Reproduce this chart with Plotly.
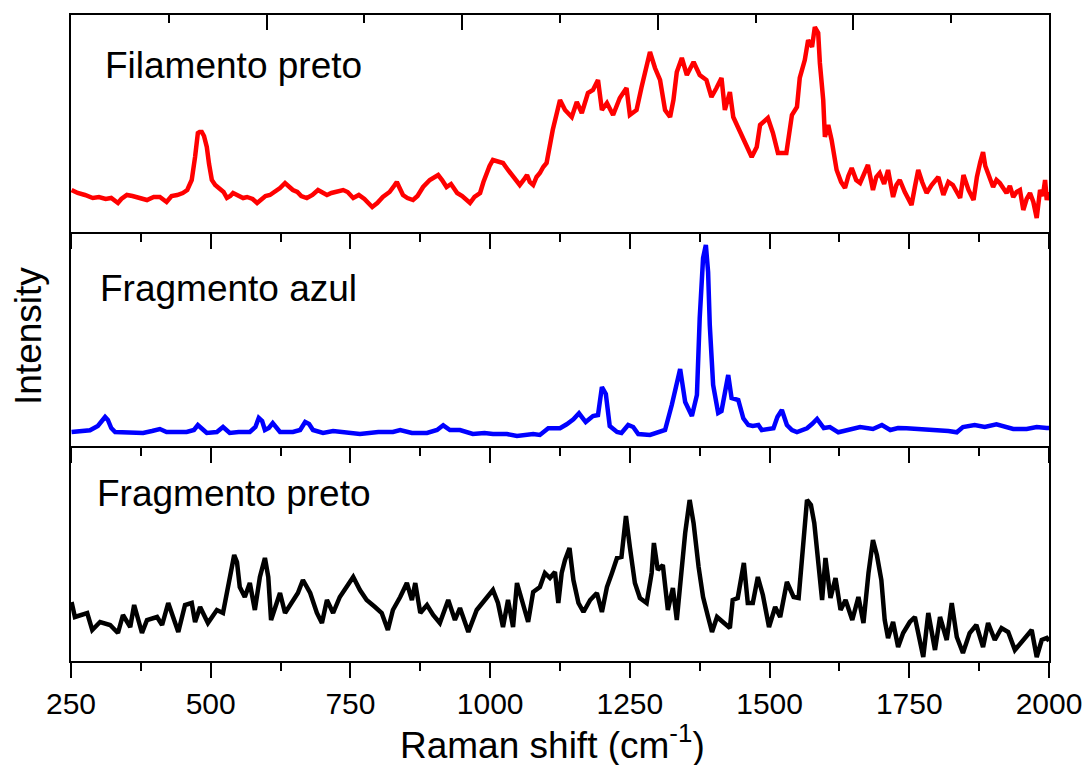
import plotly.graph_objects as go

# ---------------- data (Raman shift in cm-1, intensity in a.u.) ----------------
red_x = [251, 262, 275, 289, 300, 312, 322, 334, 340, 350, 360, 372, 386, 398, 409, 421, 430, 440,
         450, 458, 466, 472, 477, 480, 484, 488, 493, 497, 502, 508, 517, 523, 529, 535, 540, 548,
         558, 565, 575, 583, 592, 598, 606, 615, 624, 633, 640, 647, 655, 662, 672, 682, 692, 700,
         708, 716, 725, 737, 745, 755, 765, 775, 789, 798, 808, 820, 828, 833, 838, 844, 852, 862,
         870, 880, 892, 900, 907, 914, 922, 930, 941, 950, 958, 964, 972, 982, 988, 994, 999, 1005,
         1012, 1023, 1032, 1041, 1047, 1053, 1060, 1066, 1071, 1077, 1083, 1089, 1095, 1101, 1112,
         1125, 1134, 1146, 1155, 1164, 1175, 1184, 1193, 1200, 1209, 1220, 1232, 1244, 1250, 1262,
         1271, 1280, 1286, 1295, 1304, 1313, 1322, 1328, 1334, 1343, 1352, 1364, 1375, 1387, 1396,
         1405, 1414, 1420, 1429, 1435, 1447, 1459, 1468, 1477, 1483, 1497, 1506, 1515, 1530, 1540,
         1549, 1554, 1563, 1569, 1576, 1581, 1587, 1590, 1596, 1599, 1605, 1611, 1620, 1628, 1635,
         1641, 1647, 1655, 1662, 1669, 1676, 1685, 1691, 1697, 1705, 1712, 1721, 1727, 1733, 1742,
         1754, 1760, 1766, 1773, 1781, 1790, 1802, 1811, 1820, 1828, 1835, 1841, 1847, 1856, 1865,
         1871, 1877, 1882, 1886, 1891, 1900, 1906, 1912, 1918, 1924, 1930, 1936, 1942, 1948, 1954,
         1960, 1966, 1972, 1978, 1984, 1989, 1993, 1996, 2000]
red_y = [42, 39, 37, 34, 35, 33, 34, 29, 33, 37, 36, 34, 32, 35, 35, 30, 36, 37,
         39, 42, 52, 75, 99, 100, 100, 96, 85, 68, 52, 47, 42, 40, 34, 36, 39, 37,
         34, 35, 33, 29, 33, 36, 37, 40, 44, 49, 45, 42, 40, 36, 34, 37, 42, 40,
         37, 39, 40, 42, 40, 34, 37, 33, 25, 29, 35, 40, 46, 50, 44, 37, 34, 32,
         36, 45, 52, 55, 57, 52, 45, 48, 39, 36, 32, 29, 35, 39, 50, 59, 66, 72,
         71, 69, 62, 55, 50, 47, 52, 57, 50, 47, 55, 59, 65, 69, 102,
         132, 122, 115, 130, 119, 139, 142, 152, 122, 129, 117, 134, 144, 117, 122,
         145, 165, 180, 164, 152, 122, 115, 132, 160, 174, 157, 170, 157, 152, 135,
         144, 154, 122, 140, 115, 100, 85, 75, 85, 107, 114, 99, 79, 79, 117,
         125, 154, 172, 192, 185, 205, 199, 169, 132, 95, 107, 92, 62, 50, 44,
         56, 64, 52, 49, 58, 67, 42, 55, 59, 48, 62, 35, 47, 52, 40,
         27, 45, 62, 50, 39, 47, 55, 37, 50, 47, 40, 34, 57, 42, 32,
         55, 70, 80, 66, 59, 45, 52, 49, 44, 39, 46, 35, 40, 42, 22,
         33, 39, 30, 14, 42, 36, 52, 32, 40]

blue_x = [251, 270, 284, 298, 305, 311, 316, 322, 329, 350, 379, 395, 409, 421, 440, 457, 470, 477,
          485, 493, 511, 522, 534, 550, 570, 580, 586, 592, 597, 604, 611, 618, 624, 647, 660, 669,
          676, 683, 701, 719, 740, 767, 800, 826, 839, 860, 887, 905, 916, 928, 946, 969, 990, 1005,
          1030, 1048, 1077, 1089, 1104, 1125, 1137, 1149, 1159, 1171, 1184, 1193, 1200, 1207, 1214,
          1227, 1235, 1247, 1256, 1265, 1286, 1300, 1313, 1325, 1333, 1340, 1349, 1361, 1370, 1375,
          1381, 1386, 1390, 1393, 1399, 1408, 1414, 1420, 1426, 1432, 1444, 1453, 1462, 1470, 1480,
          1486, 1496, 1507, 1514, 1522, 1531, 1540, 1549, 1558, 1567, 1576, 1585, 1597, 1608, 1623,
          1640, 1662, 1685, 1701, 1716, 1730, 1745, 1770, 1805, 1820, 1835, 1846, 1867, 1885, 1906,
          1920, 1936, 1960, 1978, 1996, 2000]
blue_y = [14, 15, 15.7, 20, 25, 29, 26, 18, 14, 14, 13, 15, 17, 14, 14, 14, 16, 21,
          17, 13, 14, 19, 13, 14, 14, 19, 28, 25, 16, 18, 23, 18, 14, 14, 16, 24,
          22, 16, 13, 15, 14, 12, 14, 14, 16, 13, 13, 16, 20.7, 16, 16, 12, 13, 12,
          12, 10, 12, 11, 17.7, 17.7, 21.7, 26.7, 32.7, 24, 30, 31, 59, 52, 20,
          14, 13, 21, 19, 12, 11, 13, 16, 41, 62, 77, 44, 30, 51, 128,
          188, 201, 174, 121, 61, 33, 35, 54, 71, 48, 46, 27.7, 21, 20, 21,
          16, 17, 17.7, 29, 36, 21, 16, 14, 16, 17.7, 22, 27, 18, 19, 13.7,
          16, 19, 17, 21, 16, 18, 17.7, 17, 16, 15, 13.7, 19, 21, 19, 21.7,
          20, 17, 17, 19, 18, 18]

black_x = [251, 257, 279, 288, 302, 320, 334, 343, 356, 363, 377, 386, 404, 413, 424, 433, 442,
           454, 466, 472, 481, 495, 511, 522, 529, 536, 542, 547, 552, 561, 570, 579, 588, 597,
           603, 608, 615, 624, 633, 645, 656, 665, 678, 690, 699, 708, 719, 731, 744, 755, 767,
           779, 794, 806, 817, 826, 839, 851, 860, 866, 875, 887, 898, 910, 925, 937, 946, 961,
           976, 987, 1005, 1014, 1023, 1032, 1041, 1048, 1056, 1068, 1077, 1089, 1098, 1107, 1116,
           1122, 1128, 1134, 1142, 1149, 1158, 1167, 1179, 1191, 1200, 1209, 1218, 1227, 1235,
           1243, 1250, 1259, 1268, 1280, 1289, 1293, 1300, 1309, 1318, 1327, 1334, 1340, 1349,
           1357, 1364, 1373, 1381, 1390, 1397, 1406, 1417, 1429, 1434, 1443, 1454, 1461, 1470,
           1479, 1488, 1499, 1510, 1519, 1531, 1543, 1552, 1558, 1567, 1574, 1580, 1588, 1594,
           1600, 1609, 1618, 1627, 1636, 1648, 1659, 1668, 1677, 1685, 1692, 1700, 1706, 1712,
           1721, 1730, 1739, 1751, 1760, 1775, 1784, 1796, 1805, 1817, 1826, 1835, 1846, 1858,
           1870, 1882, 1891, 1903, 1915, 1927, 1939, 1954, 1969, 1978, 1987, 1996, 2000]
black_y = [59, 44, 48, 31, 39, 36, 28, 46, 34, 56, 28, 41, 44, 36, 58, 44, 29,
           56, 58, 39, 54, 38, 51, 48, 68, 88, 106, 99, 74, 64, 78, 51, 84, 103,
           84, 41, 54, 68, 48, 58, 68, 81, 68, 48, 38, 61, 48, 64, 74, 84, 71,
           61, 54, 48, 31, 51, 64, 78, 61, 78, 48, 56, 46, 38, 61, 41, 53, 29,
           51, 58, 71, 58, 34, 61, 34, 78, 61, 39, 69, 74, 88, 83, 89,
           58, 88, 101, 113, 81, 58, 49, 61, 68, 49, 74, 88, 103, 104,
           145, 114, 78, 63, 58, 88, 118, 91, 96, 51, 73, 41, 78, 128,
           161, 138, 94, 64, 44, 29, 44, 38, 33, 61, 63, 98, 58, 58,
           84, 66, 34, 54, 44, 79, 64, 63, 104, 161, 156, 138, 94, 61,
           103, 63, 83, 51, 61, 41, 64, 38, 88, 121, 106, 81, 41, 23,
           39, 14, 28, 39, 44, 4, 48, 11, 44, 21, 58, 24, 8, 28,
           36, 14, 38, 21, 33, 29, 11, 21, 31, 4, 21, 23, 20]

x_ticks_major = [250, 500, 750, 1000, 1250, 1500, 1750, 2000]
x_tick_labels = ["250", "500", "750", "1000", "1250", "1500", "1750", "2000"]
panel_labels = ["Filamento preto", "Fragmento azul", "Fragmento preto"]

# ---------------- figure ----------------
FONT = "Arial, Liberation Sans, sans-serif"
LW = 4.5
fig = go.Figure()
fig.add_trace(go.Scatter(x=black_x, y=black_y, xaxis="x", yaxis="y", mode="lines",
                         line=dict(color="#000000", width=LW), showlegend=False))
fig.add_trace(go.Scatter(x=blue_x, y=blue_y, xaxis="x2", yaxis="y2", mode="lines",
                         line=dict(color="#0000FF", width=LW), showlegend=False))
fig.add_trace(go.Scatter(x=red_x, y=red_y, xaxis="x3", yaxis="y3", mode="lines",
                         line=dict(color="#FF0000", width=LW), showlegend=False))
# empty helper trace so the top-edge axis of the upper panel is drawn
fig.add_trace(go.Scatter(x=[], y=[], xaxis="x4", yaxis="y3", mode="lines",
                         showlegend=False, hoverinfo="skip"))

H = 646.0
d_bot = [0, 215 / H]
d_mid = [215 / H, 429 / H]
d_top = [429 / H, 1]

xcommon = dict(range=[250, 2000], showline=True, linecolor="black", linewidth=2,
               ticks="outside", ticklen=15, tickwidth=2, tickcolor="black",
               tickmode="array", tickvals=x_ticks_major, ticktext=x_tick_labels,
               minor=dict(ticks="outside", ticklen=8, tickwidth=2, tickcolor="black",
                          tick0=250, dtick=125),
               showgrid=False, zeroline=False, domain=[0, 1], automargin=False)
ycommon = dict(showline=True, mirror=True, linecolor="black", linewidth=2, ticks="",
               showticklabels=False, showgrid=False, zeroline=False, automargin=False)

fig.update_layout(
    width=1087, height=765,
    margin=dict(l=71, r=38, t=15, b=104),
    paper_bgcolor="white", plot_bgcolor="white",
    font=dict(family=FONT, color="black"),
    xaxis=dict(xcommon, anchor="y", showticklabels=True,
               tickfont=dict(size=30, family=FONT, color="black")),
    xaxis2=dict(xcommon, anchor="y2", showticklabels=False),
    xaxis3=dict(xcommon, anchor="y3", showticklabels=False),
    xaxis4=dict(range=[250, 2000], overlaying="x3", anchor="y3", side="top",
                showline=True, linecolor="black", linewidth=2,
                ticks="inside", ticklen=15, tickwidth=2, tickcolor="black",
                tick0=250, dtick=350, showticklabels=False,
                minor=dict(ticks="inside", ticklen=8, tickwidth=2, tickcolor="black",
                           tick0=250, dtick=175),
                showgrid=False, zeroline=False, automargin=False),
    yaxis=dict(ycommon, domain=d_bot, range=[0, 215], anchor="x"),
    yaxis2=dict(ycommon, domain=d_mid, range=[0, 214], anchor="x2"),
    yaxis3=dict(ycommon, domain=d_top, range=[0, 217], anchor="x3"),
)

ann = []
label_pos = [(103, 65), (98, 288), (95, 493)]
for txt, (px, py) in zip(panel_labels, label_pos):
    ann.append(dict(text=txt, xref="paper", yref="paper",
                    x=(px - 71) / 978.0, y=(661 - py) / H,
                    xanchor="left", yanchor="middle", showarrow=False,
                    font=dict(size=37, family=FONT, color="black")))
ann.append(dict(text="Raman shift (cm<sup>-1</sup>)", xref="paper", yref="paper",
                x=(552 - 71) / 978.0, y=(661 - 743) / H, xanchor="center", yanchor="middle",
                showarrow=False, font=dict(size=37, family=FONT, color="black")))
ann.append(dict(text="Intensity", xref="paper", yref="paper", textangle=-90,
                x=(28 - 71) / 978.0, y=(661 - 336) / H, xanchor="center", yanchor="middle",
                showarrow=False, font=dict(size=37, family=FONT, color="black")))
fig.update_layout(annotations=ann)

fig.write_html("out.html")
